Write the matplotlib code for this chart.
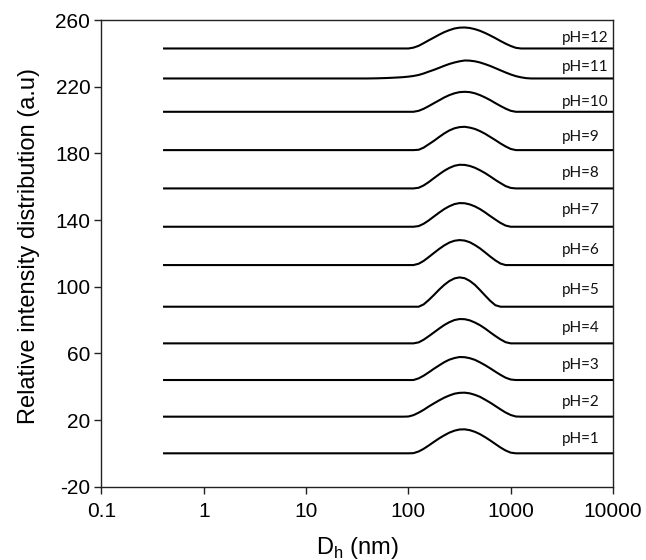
#!/usr/bin/env python3
"""DLS size distributions stacked by pH."""
import matplotlib

matplotlib.use("Agg")
import matplotlib.pyplot as plt

# hydrodynamic diameter grid (nm), shared by every pH trace
diameter_nm = [0.4, 40, 50, 63, 79, 89, 100, 112, 126, 141, 158, 178, 200, 224, 251, 282,
               316, 355, 398, 447, 501, 562, 631, 708, 794, 891, 1000, 1122, 1259, 1413,
               1585, 10000]

# relative intensity (a.u.) above each trace's own baseline
intensity = {
    1: [0, 0, 0, 0, 0, 0, 0, 0.1, 1.1, 2.7, 4.7, 6.9, 9.0, 10.8, 12.4, 13.6, 14.3, 14.4,
        13.9, 12.9, 11.5, 9.7, 7.7, 5.6, 3.5, 1.7, 0.4, 0, 0, 0, 0, 0],
    2: [0, 0, 0, 0, 0, 0, 0.1, 0.9, 2.4, 4.1, 6.1, 8.0, 9.8, 11.4, 12.7, 13.8, 14.3, 14.4,
        14.0, 13.1, 11.9, 10.2, 8.4, 6.4, 4.4, 2.5, 1.0, 0.1, 0, 0, 0, 0],
    3: [0, 0, 0, 0, 0, 0, 0, 0, 1.0, 2.6, 4.6, 6.8, 8.8, 10.7, 12.2, 13.2, 13.8, 13.7,
        13.1, 12.1, 10.6, 8.9, 7.0, 5.0, 3.1, 1.4, 0.3, 0, 0, 0, 0, 0],
    4: [0, 0, 0, 0, 0, 0, 0, 0, 0.6, 2.2, 4.3, 6.6, 8.9, 11.0, 12.7, 14.0, 14.6, 14.5,
        13.8, 12.5, 10.9, 8.9, 6.6, 4.4, 2.4, 0.7, 0, 0, 0, 0, 0, 0],
    5: [0, 0, 0, 0, 0, 0, 0, 0, 0, 1.4, 4.0, 7.1, 10.3, 13.1, 15.4, 17.0, 17.6, 17.1,
        15.5, 13.1, 10.0, 6.7, 3.5, 0.9, 0, 0, 0, 0, 0, 0, 0, 0],
    6: [0, 0, 0, 0, 0, 0, 0, 0, 0.8, 2.5, 4.8, 7.3, 9.7, 11.8, 13.5, 14.6, 15.0, 14.7,
        13.7, 12.0, 10.0, 7.6, 5.1, 2.8, 0.9, 0, 0, 0, 0, 0, 0, 0],
    7: [0, 0, 0, 0, 0, 0, 0, 0, 0.4, 1.8, 3.8, 6.2, 8.5, 10.6, 12.3, 13.6, 14.2, 14.1,
        13.4, 12.2, 10.6, 8.6, 6.4, 4.3, 2.3, 0.7, 0, 0, 0, 0, 0, 0],
    8: [0, 0, 0, 0, 0, 0, 0, 0, 0.4, 1.8, 3.8, 6.2, 8.5, 10.6, 12.3, 13.6, 14.2, 14.1,
        13.5, 12.4, 10.9, 9.2, 7.2, 5.1, 3.2, 1.4, 0.3, 0, 0, 0, 0, 0],
    9: [0, 0, 0, 0, 0, 0, 0, 0, 0.2, 1.5, 3.5, 5.6, 7.9, 10.0, 11.8, 13.1, 13.8, 14.0,
        13.5, 12.7, 11.4, 9.8, 7.9, 6.0, 4.0, 2.2, 0.7, 0, 0, 0, 0, 0],
    10: [0, 0, 0, 0, 0, 0, 0, 0, 0.6, 1.8, 3.4, 5.2, 6.9, 8.6, 10.0, 11.1, 11.8, 12.0,
         11.8, 11.1, 10.0, 8.6, 7.0, 5.2, 3.5, 1.9, 0.6, 0, 0, 0, 0, 0],
    11: [0, 0, 0.1, 0.3, 0.6, 0.8, 1.1, 1.5, 2.1, 3.0, 4.1, 5.2, 6.4, 7.6, 8.7, 9.6, 10.3,
         10.8, 10.7, 10.3, 9.6, 8.6, 7.5, 6.2, 4.9, 3.6, 2.4, 1.4, 0.7, 0.2, 0, 0],
    12: [0, 0, 0, 0, 0, 0, 0, 0.5, 1.6, 3.2, 4.9, 6.6, 8.3, 9.8, 11.0, 12.0, 12.5, 12.6,
         12.3, 11.6, 10.6, 9.3, 7.8, 6.2, 4.5, 2.9, 1.5, 0.4, 0, 0, 0, 0],
}

# vertical offset of each trace
baseline = {1: 0, 2: 22, 3: 44, 4: 66, 5: 88, 6: 113, 7: 136, 8: 159, 9: 182,
            10: 205, 11: 225, 12: 243}

# where the "pH=n" tags sit
label_y = {1: 8.3, 2: 31, 3: 53, 4: 75, 5: 98, 6: 122, 7: 146, 8: 168, 9: 190,
           10: 211, 11: 232, 12: 249}

y_ticks = [-20, 20, 60, 100, 140, 180, 220, 260]
x_ticks = [0.1, 1, 10, 100, 1000, 10000]
x_tick_labels = ["0.1", "1", "10", "100", "1000", "10000"]


def main() -> None:
    plt.rcParams.update(
        {
            "font.family": ["Liberation Sans", "DejaVu Sans"],
            "mathtext.fontset": "custom",
            "mathtext.rm": "Liberation Sans",
            "axes.unicode_minus": False,
            "axes.linewidth": 1.0,
            "axes.edgecolor": "#222222",
        }
    )

    fig = plt.figure(figsize=(6.46, 5.60), dpi=100)
    ax = fig.add_axes([0.157, 0.131, 0.792, 0.833])

    for ph in range(1, 13):
        y = [baseline[ph] + v for v in intensity[ph]]
        ax.plot(diameter_nm, y, color="black", linewidth=1.5, solid_capstyle="butt")
        ax.text(3150, label_y[ph], f"pH={ph}", fontsize=11, family=["Lato", "DejaVu Sans"],
                ha="left", va="center", color="#111111")

    ax.set_xscale("log")
    ax.set_xlim(0.1, 10000)
    ax.set_ylim(-20, 260)
    ax.set_xticks(x_ticks)
    ax.set_xticklabels(x_tick_labels)
    ax.xaxis.set_minor_locator(matplotlib.ticker.NullLocator())
    ax.set_yticks(y_ticks)
    ax.tick_params(axis="both", direction="out", length=5, width=1, labelsize=15,
                   colors="#222222", labelcolor="black")
    ax.tick_params(axis="x", pad=6)
    ax.tick_params(axis="y", pad=3)

    ax.set_xlabel(r"D$_\mathregular{h}$ (nm)", fontsize=17, labelpad=10)
    ax.set_ylabel("Relative intensity distribution (a.u)", fontsize=17)
    ax.yaxis.set_label_coords(-0.12, 0.516)

    fig.savefig("out.png", dpi=100)
    plt.close(fig)


if __name__ == "__main__":
    main()
